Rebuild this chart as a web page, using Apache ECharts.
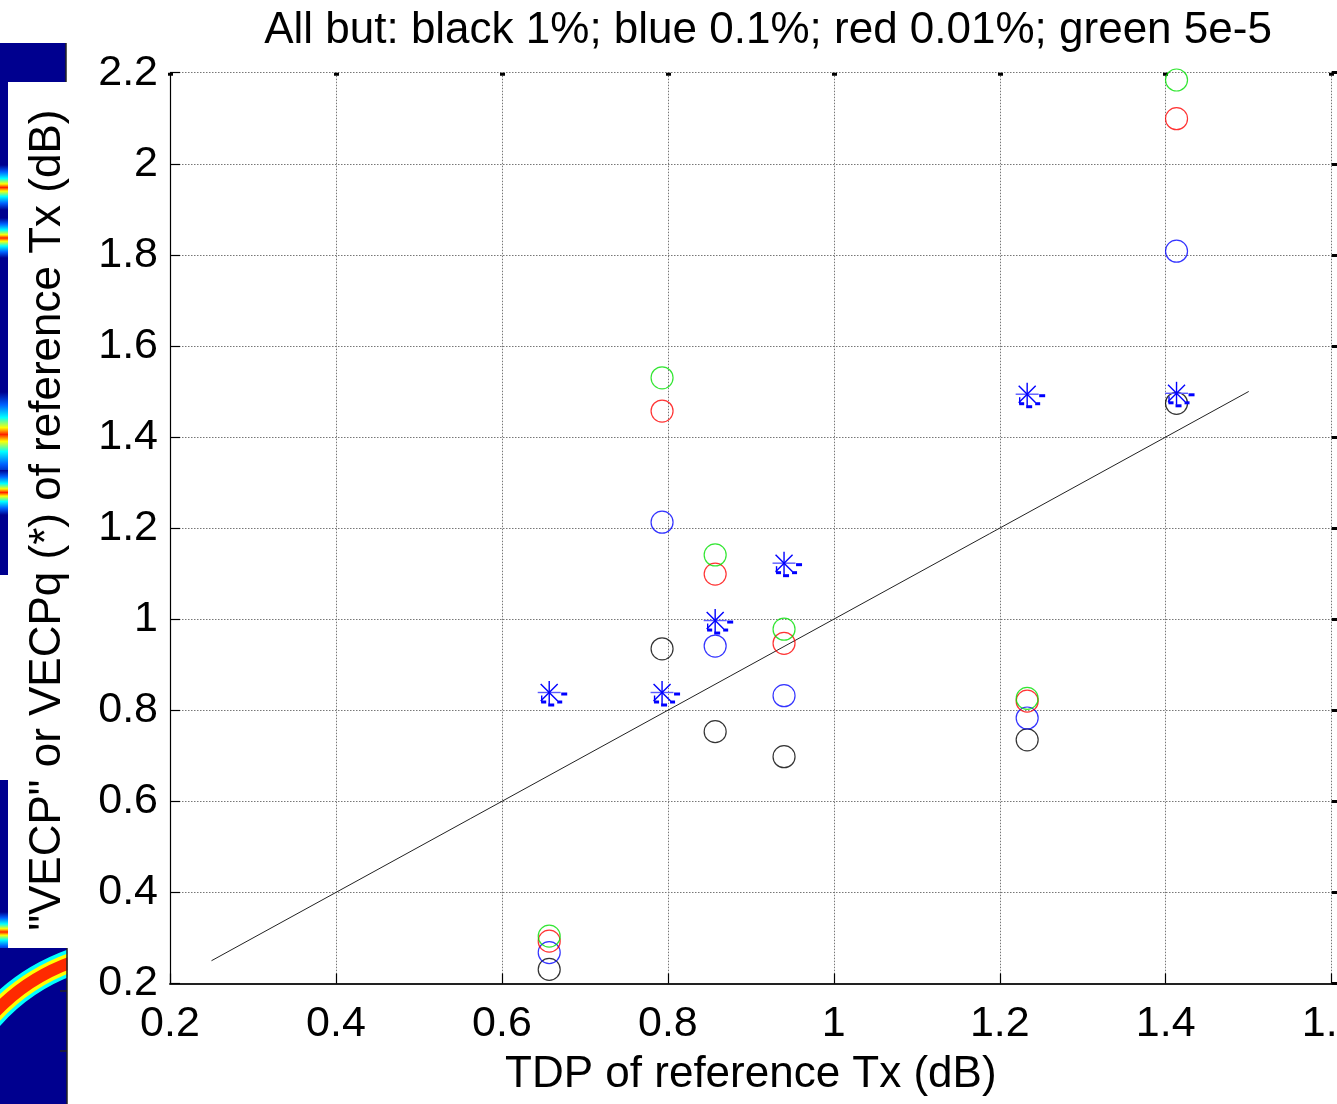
<!DOCTYPE html>
<html>
<head>
<meta charset="utf-8">
<script src="https://cdn.jsdelivr.net/npm/echarts@6/dist/echarts.min.js"></script>
<style>html,body{margin:0;padding:0;background:#fff}#c{width:1337px;height:1104px}</style>
</head>
<body>
<div id="c"></div>
<script>
// ---- data ----
const tdp       = [0.657, 0.793, 0.857, 0.940, 1.233, 1.413];   // TDP of reference Tx (dB)
const black1pc  = [0.231, 0.935, 0.753, 0.698, 0.735, 1.474];   // VECP, all but 1%
const blue01pc  = [0.268, 1.213, 0.941, 0.832, 0.783, 1.808];   // VECP, all but 0.1%
const red001pc  = [0.293, 1.457, 1.099, 0.947, 0.820, 2.099];   // VECP, all but 0.01%
const green5e5  = [0.304, 1.530, 1.141, 0.978, 0.826, 2.184];   // VECP, all but 5e-5
const vecpq     = [0.839, 0.839, 0.997, 1.123, 1.494, 1.496];   // VECPq (*)
const refLineX  = [0.25, 1.5];
const refLineY  = [0.25, 1.5];
const xTicks    = [0.2, 0.4, 0.6, 0.8, 1.0, 1.2, 1.4, 1.6];
const yTicks    = [0.2, 0.4, 0.6, 0.8, 1.0, 1.2, 1.4, 1.6, 1.8, 2.0, 2.2];
const titleText = 'All but: black 1%; blue 0.1%; red 0.01%; green 5e-5';
const xName     = 'TDP of reference Tx (dB)';
const yName     = '"VECP" or VECPq (*) of reference Tx (dB)';

const FONT = 'Liberation Sans, Arial, Helvetica, sans-serif';
const pairs = ys => tdp.map((x, i) => [x, ys[i]]);

const circle = (name, ys, color) => ({
  name, type: 'scatter', data: pairs(ys), symbol: 'circle', symbolSize: 22,
  itemStyle: { color: 'rgba(0,0,0,0)', borderColor: color, borderWidth: 1.2 },
  emphasis: { disabled: true }, z: 3
});

const chart = echarts.init(document.getElementById('c'), null, { renderer: 'canvas' });

const jet = [
  { offset: 0, color: '#00008f' }, { offset: 0.15, color: '#0060ff' },
  { offset: 0.3, color: '#00ffff' }, { offset: 0.42, color: '#ffff00' },
  { offset: 0.5, color: '#ff2000' }, { offset: 0.58, color: '#ffff00' },
  { offset: 0.7, color: '#00ffff' }, { offset: 0.85, color: '#0060ff' },
  { offset: 1, color: '#00008f' }
];
const vgrad = { type: 'linear', x: 0, y: 0, x2: 0, y2: 1, colorStops: jet };
const DB = '#00008f';
const arcShape = { cx: 140, cy: 1150, r: 200, startAngle: -143 * Math.PI / 180, endAngle: -110 * Math.PI / 180, clockwise: true };

const option = {
  animation: false,
  backgroundColor: '#ffffff',
  title: {
    text: titleText, left: 763, top: 4, textAlign: 'center',
    textStyle: { fontFamily: FONT, fontSize: 44, fontWeight: 'normal', color: '#000' }
  },
  grid: { left: 170, right: 5.3, top: 72.7, bottom: 120.5, containLabel: false, outerBoundsMode: 'none' },
  xAxis: [{
    type: 'value', min: xTicks[0], max: xTicks[xTicks.length - 1], interval: 0.2,
    name: xName, nameLocation: 'middle', nameGap: 69,
    nameTextStyle: { fontFamily: FONT, fontSize: 44, color: '#000' },
    axisLine: { show: true, onZero: false, lineStyle: { color: '#222', width: 2 } },
    axisTick: { show: true, inside: true, length: 10, lineStyle: { color: '#000', width: 1.2 } },
    axisLabel: { fontFamily: FONT, fontSize: 43, color: '#000', margin: 19, hideOverlap: false },
    splitLine: { show: true, lineStyle: { color: '#777', width: 1, type: [1.5, 1.5] } }
  }, {
    type: 'value', position: 'top', min: xTicks[0], max: xTicks[xTicks.length - 1], interval: 0.2,
    axisLine: { show: false },
    axisTick: { show: true, inside: true, length: 3, lineStyle: { color: '#000', width: 5 } },
    axisLabel: { show: false }, splitLine: { show: false }
  }],
  yAxis: [{
    type: 'value', min: yTicks[0], max: yTicks[yTicks.length - 1], interval: 0.2,
    name: yName, nameLocation: 'middle', nameGap: 100,
    nameTextStyle: { fontFamily: FONT, fontSize: 44, color: '#000', padding: [0, 0, 0, 16] },
    axisLine: { show: true, onZero: false, lineStyle: { color: '#000', width: 1.2 } },
    axisTick: { show: true, inside: true, length: 10, lineStyle: { color: '#000', width: 1.2 } },
    axisLabel: { fontFamily: FONT, fontSize: 43, color: '#000', margin: 12 },
    splitLine: { show: true, lineStyle: { color: '#777', width: 1, type: [1.5, 1.5] } }
  }, {
    type: 'value', position: 'right', min: yTicks[0], max: yTicks[yTicks.length - 1], interval: 0.2,
    axisLine: { show: false },
    axisTick: { show: true, inside: false, length: 6, lineStyle: { color: '#000', width: 3 } },
    axisLabel: { show: false }, splitLine: { show: false }
  }],
  series: [
    {
      name: 'y = x', type: 'line', data: refLineX.map((x, i) => [x, refLineY[i]]),
      symbol: 'none', lineStyle: { color: '#222', width: 1 }, z: 2, silent: true
    },
    circle('black 1%', black1pc, '#000000'),
    circle('blue 0.1%', blue01pc, '#0000ff'),
    circle('red 0.01%', red001pc, '#ff0000'),
    circle('green 5e-5', green5e5, '#00e000'),
    {
      name: 'VECPq', type: 'custom', data: pairs(vecpq), z: 4, silent: true,
      renderItem: (params, api) => {
        const p = api.coord([api.value(0), api.value(1)]);
        const x = p[0], y = p[1], r = 11.5, d = 8.5;
        const ls = { stroke: '#0000ff', lineWidth: 1.4 };
        const seg = (x1, y1, x2, y2, s) => ({ type: 'line', shape: { x1, y1, x2, y2 }, style: s || ls });
        const rect = (rx, ry, w, h) => ({ type: 'rect', shape: { x: rx, y: ry, width: w, height: h }, style: { fill: '#0000ff' } });
        return {
          type: 'group', children: [
            seg(x, y - r, x, y + r),
            seg(x - r, y, x + r, y, { stroke: '#5a5aff', lineWidth: 1.4 }),
            seg(x - d, y - d, x + d, y + d),
            seg(x - d, y + d, x + d, y - d),
            rect(x + 12, y, 6, 3),
            rect(x - 8, y + 8, 5, 3),
            rect(x - 1, y + 11, 6, 3),
            rect(x + 8, y + 8, 5, 3),
            seg(x - 7.5, y + 3, x - 7.5, y + 10, { stroke: '#0000ff', lineWidth: 1.4 })
          ]
        };
      }
    }
  ],
  graphic: [
    // remnants of another figure window at the left edge
    { type: 'rect', shape: { x: 0, y: 43, width: 66, height: 39 }, style: { fill: DB }, z: -1 },
    { type: 'line', shape: { x1: 66, y1: 43, x2: 66, y2: 82 }, style: { stroke: '#222', lineWidth: 1.5 }, z: -1 },
    { type: 'rect', shape: { x: 0, y: 82, width: 8, height: 493 }, style: { fill: DB }, z: -1 },
    { type: 'rect', shape: { x: 0, y: 165, width: 8, height: 45 }, style: { fill: vgrad }, z: -1 },
    { type: 'rect', shape: { x: 0, y: 218, width: 8, height: 40 }, style: { fill: vgrad }, z: -1 },
    { type: 'rect', shape: { x: 0, y: 392, width: 8, height: 85 }, style: { fill: vgrad }, z: -1 },
    { type: 'rect', shape: { x: 0, y: 470, width: 8, height: 45 }, style: { fill: vgrad }, z: -1 },
    { type: 'rect', shape: { x: 0, y: 780, width: 8, height: 168 }, style: { fill: DB }, z: -1 },
    { type: 'rect', shape: { x: 0, y: 912, width: 8, height: 40 }, style: { fill: vgrad }, z: -1 },
    { type: 'rect', shape: { x: 0, y: 948, width: 67, height: 156 }, style: { fill: DB }, z: -1 },
    { type: 'arc', shape: arcShape, style: { stroke: '#00ffff', lineWidth: 26, fill: null }, z: -1 },
    { type: 'arc', shape: arcShape, style: { stroke: '#ffff00', lineWidth: 19, fill: null }, z: -1 },
    { type: 'arc', shape: arcShape, style: { stroke: '#ff2a00', lineWidth: 12, fill: null }, z: -1 },
    { type: 'rect', shape: { x: 67.5, y: 900, width: 30, height: 100 }, style: { fill: '#fff' }, z: -1 },
    { type: 'rect', shape: { x: 8, y: 900, width: 70, height: 48 }, style: { fill: '#fff' }, z: -1 },
    { type: 'line', shape: { x1: 67, y1: 948, x2: 67, y2: 1104 }, style: { stroke: '#222', lineWidth: 1.5 }, z: -1 },
    { type: 'line', shape: { x1: 60, y1: 991, x2: 67, y2: 991 }, style: { stroke: '#222', lineWidth: 1.5 }, z: -1 },
    { type: 'line', shape: { x1: 60, y1: 1051, x2: 67, y2: 1051 }, style: { stroke: '#222', lineWidth: 1.5 }, z: -1 }
  ]
};
chart.setOption(option);
</script>
</body>
</html>
